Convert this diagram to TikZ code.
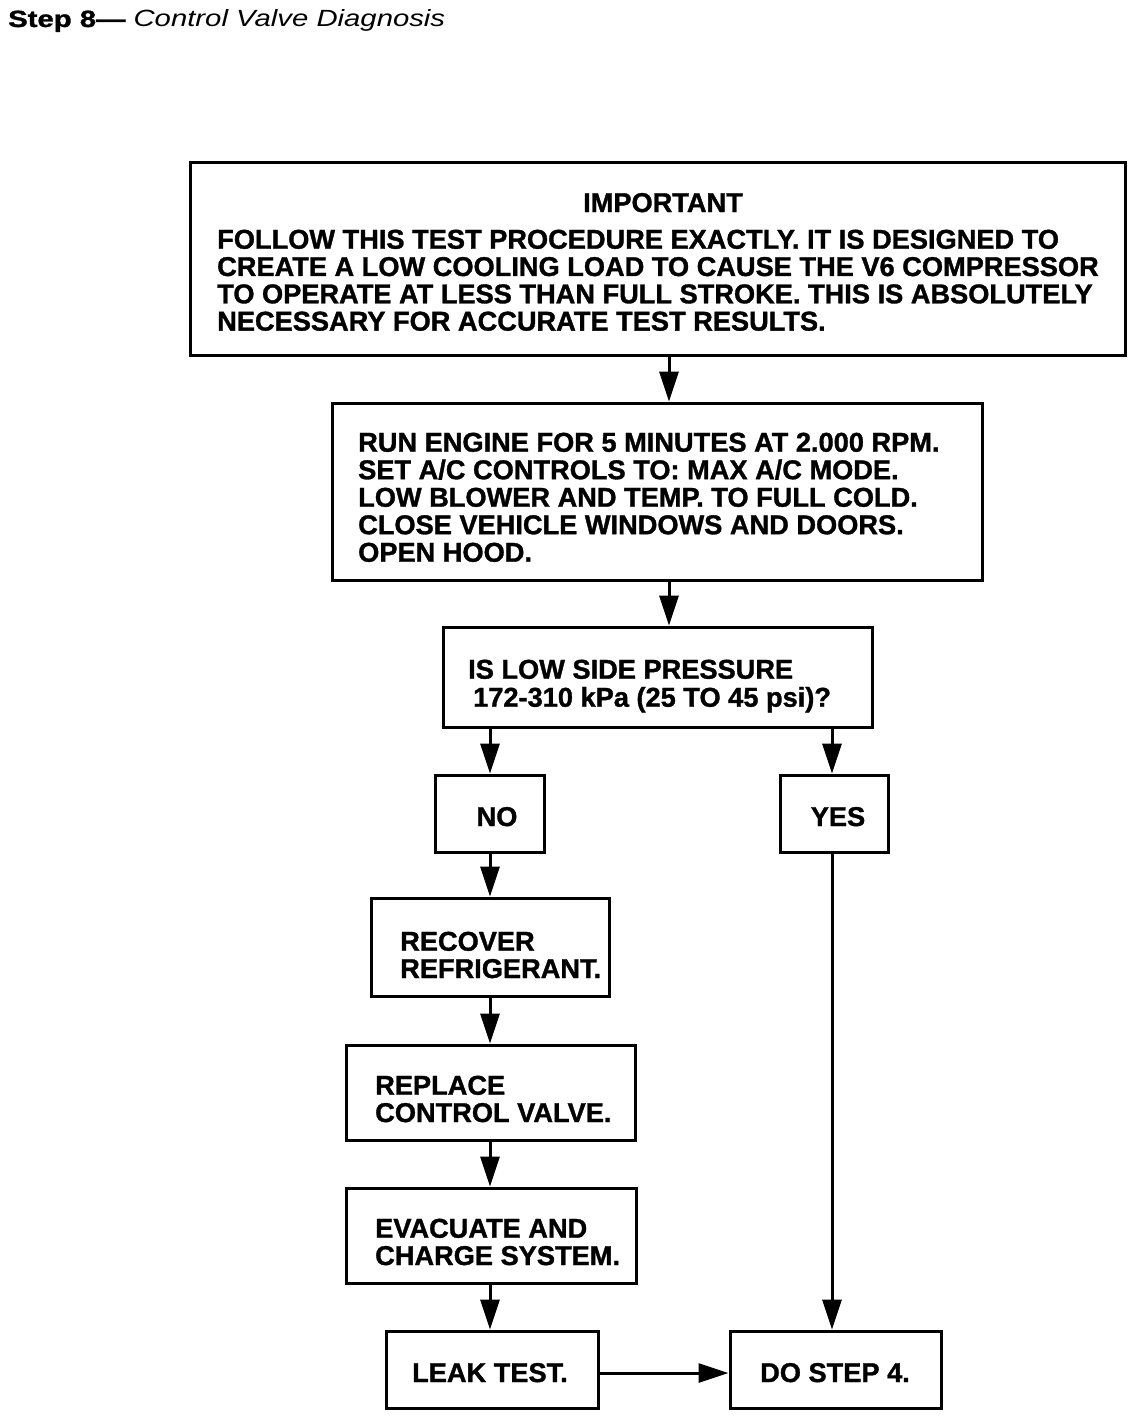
\documentclass[tikz,border=0pt]{standalone}
\usepackage{fontspec}
\usepackage{graphicx}
\setmainfont{Liberation Sans}[BoldFeatures={FakeBold=1.2}]
\usetikzlibrary{arrows.meta}
\begin{document}
\begin{tikzpicture}[x=1pt,y=-1pt,
  box/.style={draw, line width=3pt, inner sep=0pt},
  txt/.style={font=\fontsize{27.2}{27.3}\selectfont\bfseries, align=left, inner sep=0pt, anchor=north west},
  lbl/.style={font=\fontsize{27.2}{27.3}\selectfont\bfseries, inner sep=0pt, anchor=base},
  arr/.style={line width=3pt, -{Triangle[length=30pt,width=19pt]}}]
\useasboundingbox (0,0) rectangle (1136,1416);
\fill[white] (0,0) rectangle (1136,1416);

% title
\node[anchor=base west, inner sep=0pt] (title) at (8,27)
  {\resizebox{437pt}{17pt}{\fontsize{20}{20}\selectfont\bfseries Step 8\textemdash\ \mdseries\itshape Control Valve Diagnosis}};

% boxes
\node[box, minimum width=935pt, minimum height=193pt] (imp) at (657.5,258.5) {};
\node[box, minimum width=650pt, minimum height=177pt] (run) at (657,491.5) {};
\node[box, minimum width=429pt, minimum height=100pt] (q) at (657.5,677) {};
\node[box, minimum width=109pt, minimum height=77pt] (no) at (489.5,813.5) {};
\node[box, minimum width=108pt, minimum height=77pt] (yes) at (834,813.5) {};
\node[box, minimum width=238pt, minimum height=98pt] (rec) at (490,947) {};
\node[box, minimum width=289pt, minimum height=95pt] (rep) at (490.5,1092.5) {};
\node[box, minimum width=290pt, minimum height=95pt] (eva) at (491,1235.5) {};
\node[box, minimum width=212pt, minimum height=77pt] (leak) at (492,1369.5) {};
\node[box, minimum width=211pt, minimum height=77pt] (do) at (835.5,1369.5) {};

% texts
\node[lbl] (impt) at (663,212) {IMPORTANT};
\node[txt] (impb) at (217,229.5) {FOLLOW THIS TEST PROCEDURE EXACTLY. IT IS DESIGNED TO\\
CREATE A LOW COOLING LOAD TO CAUSE THE V6 COMPRESSOR\\
TO OPERATE AT LESS THAN FULL STROKE. THIS IS ABSOLUTELY\\
NECESSARY FOR ACCURATE TEST RESULTS.};
\node[txt, font=\fontsize{27.2}{27.5}\selectfont\bfseries] (runt) at (358,432.5) {RUN ENGINE FOR 5 MINUTES AT 2.000 RPM.\\
SET A/C CONTROLS TO: MAX A/C MODE.\\
LOW BLOWER AND TEMP. TO FULL COLD.\\
CLOSE VEHICLE WINDOWS AND DOORS.\\
OPEN HOOD.};
\node[txt, font=\fontsize{27.2}{28}\selectfont\bfseries] (qt) at (468,659.5) {IS LOW SIDE PRESSURE\\
\hspace*{5pt}172-310 kPa (25 TO 45 psi)?};
\node[lbl] (not) at (497,826) {NO};
\node[lbl] (yest) at (838,826) {YES};
\node[txt] (rect) at (400,931.5) {RECOVER\\REFRIGERANT.};
\node[txt] (rept) at (375,1075.5) {REPLACE\\CONTROL VALVE.};
\node[txt] (evat) at (375,1218.5) {EVACUATE AND\\CHARGE SYSTEM.};
\node[lbl] (leakt) at (490,1382) {LEAK TEST.};
\node[lbl] (dot) at (835,1382) {DO STEP 4.};

% connector guides
\coordinate (cM) at (669,0);
\coordinate (cL) at (490,0);
\coordinate (cR) at (832,0);
\coordinate (cH) at (0,1373);

\draw[arr] (imp.south -| cM) -- (run.north -| cM);
\draw[arr] (run.south -| cM) -- (q.north -| cM);
\draw[arr] (q.south -| cL) -- (no.north -| cL);
\draw[arr] (q.south -| cR) -- (yes.north -| cR);
\draw[arr] (no.south -| cL) -- (rec.north -| cL);
\draw[arr] (rec.south -| cL) -- (rep.north -| cL);
\draw[arr] (rep.south -| cL) -- (eva.north -| cL);
\draw[arr] (eva.south -| cL) -- (leak.north -| cL);
\draw[arr] (yes.south -| cR) -- (do.north -| cR);
\draw[arr] (leak.east |- cH) -- (do.west |- cH);
\end{tikzpicture}
\end{document}
